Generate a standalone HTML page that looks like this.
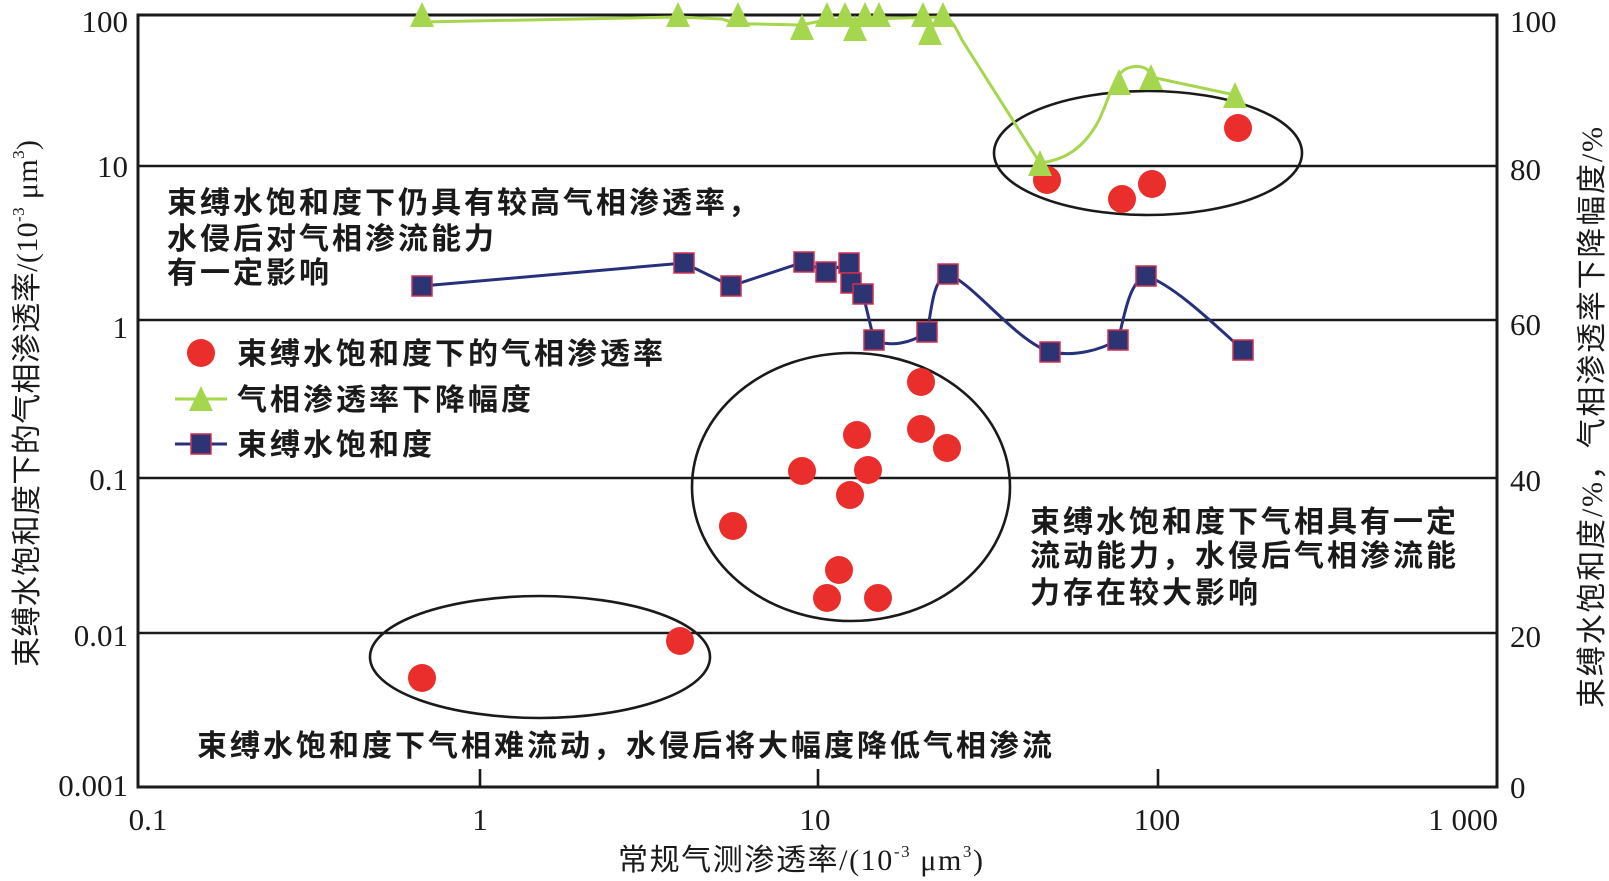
<!DOCTYPE html>
<html><head><meta charset="utf-8"><style>
html,body{margin:0;padding:0;background:#fff;}
svg{display:block;}
.num{font-family:"Liberation Serif",serif;font-size:31px;fill:#1a1a1a;}
.cjk{font-family:"Noto Sans CJK SC","WenQuanYi Zen Hei",sans-serif;font-size:30px;fill:#1a1a1a;}
.ann{font-family:"Noto Sans CJK SC","WenQuanYi Zen Hei",sans-serif;font-size:30px;font-weight:bold;letter-spacing:3px;fill:#1a1a1a;}
.ser{font-family:"Liberation Serif",serif;}
</style></head><body>
<svg width="1609" height="881" viewBox="0 0 1609 881" xmlns="http://www.w3.org/2000/svg">
<rect x="0" y="0" width="1609" height="881" fill="#fff"/>
<g stroke="#1a1a1a" stroke-width="2.6">
<line x1="138" y1="166" x2="1497" y2="166"/>
<line x1="138" y1="320" x2="1497" y2="320"/>
<line x1="138" y1="478" x2="1497" y2="478"/>
<line x1="138" y1="633" x2="1497" y2="633"/>
<line x1="480" y1="769" x2="480" y2="787"/>
<line x1="818" y1="769" x2="818" y2="787"/>
<line x1="1158" y1="769" x2="1158" y2="787"/>
</g>
<rect x="138" y="15" width="1359" height="772" fill="none" stroke="#1a1a1a" stroke-width="3"/>
<g fill="none" stroke="#1a1a1a" stroke-width="2.6">
<ellipse cx="1148" cy="153" rx="154" ry="62"/>
<ellipse cx="851" cy="487" rx="159" ry="134"/>
<ellipse cx="540" cy="657" rx="170" ry="61"/>
</g>
<path d="M422,286 L684,263 L731,286 L804,262 L826,272 L849,263 L851,283 L863,294 L874,340 C890,347 910,344 927,332 C932,310 932,280 948,274 C975,285 1015,340 1050,352 C1075,357 1100,350 1118,340 C1124,320 1128,282 1146,276 C1175,285 1220,330 1243,350" fill="none" stroke="#27307a" stroke-width="3"/>
<path d="M422,22 L678,17 L722,19 C732,23 740,24 755,24 L800,25 L827,20 L943,17 C952,19 956,28 962,40 L1040,163 C1065,160 1085,148 1100,118 C1110,96 1115,72 1128,68 C1140,64 1150,68 1151,77 L1235,95" fill="none" stroke="#a6d64e" stroke-width="3"/>
<g fill="#ea2e2c">
<circle cx="1047" cy="180" r="14"/><circle cx="1122" cy="199" r="14"/><circle cx="1152" cy="184" r="14"/><circle cx="1238" cy="128" r="14"/>
<circle cx="921" cy="382" r="14"/><circle cx="857" cy="435" r="14"/><circle cx="921" cy="429" r="14"/><circle cx="947" cy="448" r="14"/>
<circle cx="802" cy="471" r="14"/><circle cx="868" cy="470" r="14"/><circle cx="850" cy="495" r="14"/><circle cx="733" cy="526" r="14"/>
<circle cx="839" cy="570" r="14"/><circle cx="827" cy="598" r="14"/><circle cx="878" cy="598" r="14"/>
<circle cx="680" cy="641" r="14"/><circle cx="422" cy="678" r="14"/>
</g>
<g fill="#a6d64e">
<polygon points="422,2 410,27 434,27"/>
<polygon points="678,2 666,27 690,27"/>
<polygon points="738,2 726,27 750,27"/>
<polygon points="802,14 790,40 814,40"/>
<polygon points="827,2 815,27 839,27"/>
<polygon points="845,2 833,27 857,27"/>
<polygon points="855,15 843,41 867,41"/>
<polygon points="865,2 853,27 877,27"/>
<polygon points="879,2 867,27 891,27"/>
<polygon points="923,2 911,27 935,27"/>
<polygon points="930,19 918,45 942,45"/>
<polygon points="943,2 931,27 955,27"/>
<polygon points="1040,150 1028,176 1052,176"/>
<polygon points="1119,69 1107,95 1131,95"/>
<polygon points="1151,64 1139,90 1163,90"/>
<polygon points="1235,82 1223,108 1247,108"/>
</g>
<g fill="#2d3473" stroke="#d03050" stroke-width="1.5">
<rect x="412" y="276" width="20" height="20"/>
<rect x="674" y="253" width="20" height="20"/>
<rect x="721" y="276" width="20" height="20"/>
<rect x="794" y="252" width="20" height="20"/>
<rect x="816" y="262" width="20" height="20"/>
<rect x="839" y="253" width="20" height="20"/>
<rect x="841" y="273" width="20" height="20"/>
<rect x="853" y="284" width="20" height="20"/>
<rect x="864" y="330" width="20" height="20"/>
<rect x="917" y="322" width="20" height="20"/>
<rect x="938" y="264" width="20" height="20"/>
<rect x="1040" y="342" width="20" height="20"/>
<rect x="1108" y="330" width="20" height="20"/>
<rect x="1136" y="266" width="20" height="20"/>
<rect x="1233" y="340" width="20" height="20"/>
</g>
<circle cx="201" cy="353" r="14" fill="#ea2e2c"/>
<line x1="175" y1="399" x2="227" y2="399" stroke="#a6d64e" stroke-width="3"/>
<polygon points="201,386 189,411 213,411" fill="#a6d64e"/>
<line x1="175" y1="444" x2="227" y2="444" stroke="#27307a" stroke-width="3"/>
<rect x="191" y="434" width="20" height="20" fill="#2d3473" stroke="#d03050" stroke-width="1.5"/>
<text class="ann" x="237" y="364">束缚水饱和度下的气相渗透率</text>
<text class="ann" x="237" y="410">气相渗透率下降幅度</text>
<text class="ann" x="237" y="455">束缚水饱和度</text>
<text class="ann" x="167" y="213">束缚水饱和度下仍具有较高气相渗透率，</text>
<text class="ann" x="167" y="249">水侵后对气相渗流能力</text>
<text class="ann" x="167" y="283">有一定影响</text>
<text class="ann" x="1030" y="532">束缚水饱和度下气相具有一定</text>
<text class="ann" x="1030" y="566">流动能力，水侵后气相渗流能</text>
<text class="ann" x="1030" y="603">力存在较大影响</text>
<text class="ann" x="197" y="756">束缚水饱和度下气相难流动，水侵后将大幅度降低气相渗流</text>
<g class="num" text-anchor="end">
<text x="128" y="32">100</text>
<text x="128" y="177">10</text>
<text x="128" y="338">1</text>
<text x="128" y="490">0.1</text>
<text x="128" y="646">0.01</text>
<text x="128" y="796">0.001</text>
</g>
<g class="num">
<text x="1510" y="32">100</text>
<text x="1510" y="180">80</text>
<text x="1510" y="335">60</text>
<text x="1510" y="491">40</text>
<text x="1510" y="647">20</text>
<text x="1510" y="798">0</text>
</g>
<g class="num" text-anchor="middle">
<text x="148" y="830">0.1</text>
<text x="480" y="830">1</text>
<text x="815" y="830">10</text>
<text x="1157" y="830">100</text>
<text x="1498" y="830" text-anchor="end">1 000</text>
</g>
<text x="618" y="870" class="cjk" textLength="365" lengthAdjust="spacing">常规气测渗透率<tspan class="ser">/(10</tspan><tspan class="ser" font-size="17" dy="-13">-3</tspan><tspan class="ser" dy="13"> μm</tspan><tspan class="ser" font-size="17" dy="-13">3</tspan><tspan class="ser" dy="13">)</tspan></text>
<text transform="translate(37,667) rotate(-90)" x="0" y="0" class="cjk" textLength="527" lengthAdjust="spacing">束缚水饱和度下的气相渗透率<tspan class="ser">/(10</tspan><tspan class="ser" font-size="17" dy="-13">-3</tspan><tspan class="ser" dy="13"> μm</tspan><tspan class="ser" font-size="17" dy="-13">3</tspan><tspan class="ser" dy="13">)</tspan></text>
<text transform="translate(1602,708) rotate(-90)" x="0" y="0" class="cjk" textLength="581" lengthAdjust="spacing">束缚水饱和度<tspan class="ser">/%</tspan>，气相渗透率下降幅度<tspan class="ser">/%</tspan></text>
</svg>
</body></html>
